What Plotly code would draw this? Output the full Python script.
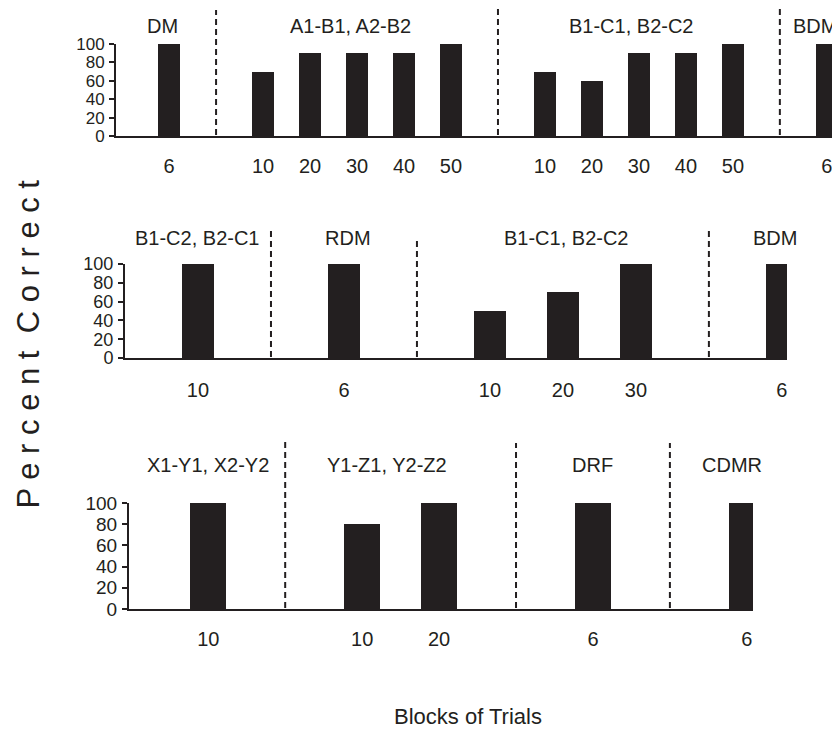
import plotly.graph_objects as go

# ---- data ----
# Panel 1
p1_groups = ["DM", "A1-B1, A2-B2", "B1-C1, B2-C2", "BDM"]
p1_blocks = [["6"], ["10", "20", "30", "40", "50"], ["10", "20", "30", "40", "50"], ["6"]]
p1_values = [[100], [70, 90, 90, 90, 100], [70, 60, 90, 90, 100], [100]]

# Panel 2
p2_groups = ["B1-C2, B2-C1", "RDM", "B1-C1, B2-C2", "BDM"]
p2_blocks = [["10"], ["6"], ["10", "20", "30"], ["6"]]
p2_values = [[100], [100], [50, 70, 100], [100]]

# Panel 3
p3_groups = ["X1-Y1, X2-Y2", "Y1-Z1, Y2-Z2", "DRF", "CDMR"]
p3_blocks = [["10"], ["10", "20"], ["6"], ["6"]]
p3_values = [[100], [80, 100], [100], [100]]

y_ticks = [0, 20, 40, 60, 80, 100]

W, H = 840, 731
OFF = 8  # page body margin
INK = "#231f20"
FONT = "Liberation Sans, Arial, sans-serif"


def fx(px):
    return (px - OFF) / W


def fy(py):
    return 1 - (py - OFF) / H


fig = go.Figure()


def layout_groups(blocks):
    """slot index for each bar: groups separated by one empty slot."""
    pos, gaps, centers = [], [], []
    i = 0
    for gi, b in enumerate(blocks):
        gp = list(range(i, i + len(b)))
        pos.append(gp)
        centers.append((gp[0] + gp[-1]) / 2)
        i += len(b)
        if gi < len(blocks) - 1:
            gaps.append(i)
            i += 1
    return pos, gaps, centers


panels = [
    dict(groups=p1_groups, blocks=p1_blocks, values=p1_values,
         px=(116, 840), py=(136, 44), xr=(-1.13, 14.28), bw=0.48, yfs=17,
         label_y=26, dash_top=[10, 8, 4], standoff=11, lab_shift=[-7, -7, -7, -12]),
    dict(groups=p2_groups, blocks=p2_blocks, values=p2_values,
         px=(125, 787), py=(358, 264), xr=(-1.0, 8.07), bw=0.44, yfs=18,
         label_y=238, dash_top=[228, 238, 231], standoff=13, lab_shift=[0, 4, 4, -7]),
    dict(groups=p3_groups, blocks=p3_blocks, values=p3_values,
         px=(129, 753), py=(609, 503), xr=(-1.03, 7.08), bw=0.47, yfs=19,
         label_y=465, dash_top=[441, 443, 443], standoff=11, lab_shift=[0, -14, 0, -15]),
]

for k, p in enumerate(panels, start=1):
    xa = "x" if k == 1 else f"x{k}"
    ya = "y" if k == 1 else f"y{k}"
    pos, gaps, centers = layout_groups(p["blocks"])
    xs = [x for g in pos for x in g]
    ys = [v for g in p["values"] for v in g]
    ticktext = [t for g in p["blocks"] for t in g]
    fig.add_trace(go.Bar(x=xs, y=ys, width=p["bw"], marker=dict(color=INK, line=dict(width=0)),
                         xaxis=xa, yaxis=ya, showlegend=False, cliponaxis=True))
    xdom = [fx(p["px"][0]), fx(p["px"][1])]
    ydom = [fy(p["py"][0]), fy(p["py"][1])]
    fig.layout[("xaxis" if k == 1 else f"xaxis{k}")] = dict(
        domain=xdom, range=list(p["xr"]), anchor=ya, showgrid=False, zeroline=False,
        showline=True, linecolor=INK, linewidth=2, ticks="", automargin=False,
        tickmode="array", tickvals=xs, ticktext=ticktext,
        tickfont=dict(size=20, color=INK, family=FONT), ticklabelstandoff=p["standoff"],
        fixedrange=True)
    fig.layout[("yaxis" if k == 1 else f"yaxis{k}")] = dict(
        domain=ydom, range=[0, 100], anchor=xa, showgrid=False, zeroline=False,
        showline=True, linecolor=INK, linewidth=2, ticks="outside", ticklen=5,
        tickwidth=2, tickcolor=INK, tickmode="array", tickvals=y_ticks, automargin=False,
        tickfont=dict(size=p["yfs"], color=INK, family=FONT), ticklabelstandoff=1,
        fixedrange=True)
    # dashed separators
    for gx, top in zip(gaps, p["dash_top"]):
        fig.add_shape(type="line", xref=xa, yref="paper", x0=gx, x1=gx,
                      y0=fy(p["py"][0] - 1), y1=fy(top),
                      line=dict(color=INK, width=2, dash="6px,4px"))
    # group labels
    for g, c, sh in zip(p["groups"], centers, p["lab_shift"]):
        fig.add_annotation(text=g, x=c, xref=xa, y=fy(p["label_y"]), yref="paper",
                           xanchor="center", yanchor="middle", showarrow=False, xshift=sh,
                           font=dict(size=20, color=INK, family=FONT))

fig.add_annotation(text="P e r c e n t \u00a0C o r r e c t", textangle=-90,
                   x=0, y=fy(344), xref="paper", yref="paper",
                   xanchor="left", yanchor="middle", showarrow=False,
                   font=dict(size=31, color=INK, family=FONT))
fig.add_annotation(text="Blocks of Trials", x=fx(468), y=fy(716),
                   xref="paper", yref="paper", xanchor="center", yanchor="middle",
                   showarrow=False, font=dict(size=22, color=INK, family=FONT))

fig.update_layout(width=W, height=H, margin=dict(l=0, r=0, t=0, b=0, autoexpand=False),
                  paper_bgcolor="white", plot_bgcolor="white", bargap=0)

fig.write_html("out.html")
